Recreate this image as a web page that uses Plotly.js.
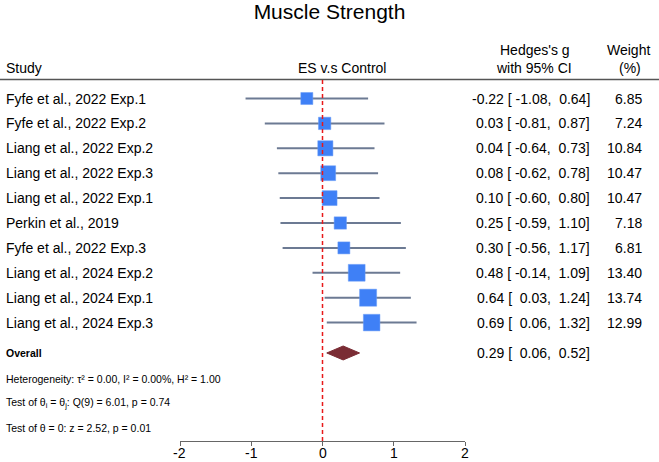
<!DOCTYPE html>
<html>
<head>
<meta charset="utf-8">
<script src="https://cdn.plot.ly/plotly-3.0.1.min.js"></script>
<style>html,body{margin:0;padding:0;background:#fff;}#chart{width:659px;height:462px;}</style>
</head>
<body>
<div id="chart"></div>
<script>
const studies = ["Fyfe et al., 2022 Exp.1","Fyfe et al., 2022 Exp.2","Liang et al., 2022 Exp.2","Liang et al., 2022 Exp.3","Liang et al., 2022 Exp.1","Perkin et al., 2019","Fyfe et al., 2022 Exp.3","Liang et al., 2024 Exp.2","Liang et al., 2024 Exp.1","Liang et al., 2024 Exp.3"];
const est   = [-0.22, 0.03, 0.04, 0.08, 0.10, 0.25, 0.30, 0.48, 0.64, 0.69];
const lower = [-1.08,-0.81,-0.64,-0.62,-0.60,-0.59,-0.56,-0.14, 0.03, 0.06];
const upper = [ 0.64, 0.87, 0.73, 0.78, 0.80, 1.10, 1.17, 1.09, 1.24, 1.32];
const weight = [6.85, 7.24, 10.84, 10.47, 10.47, 7.18, 6.81, 13.40, 13.74, 12.99];
const overall = {est:0.29, lower:0.06, upper:0.52};
const xTicks = [-2,-1,0,1,2];
const hetText = "Heterogeneity: τ² = 0.00, I² = 0.00%, H² = 1.00";
const qText = "Test of θ<sub>i</sub> = θ<sub>j</sub>: Q(9) = 6.01, p = 0.74";
const zText = "Test of θ = 0: z = 2.52, p = 0.01";

const W = 659, H = 462;
const FONT = "Liberation Sans, Arial, Helvetica, sans-serif";
const rowY = studies.map((_, i) => i + 1);
const overallY = 11.22, hetY = 12.27, qY = 13.23, zY = 14.24;
const yTop = 0.257, yBot = 14.755;
const px = v => v / W;
const py = v => 1 - v / H;
const nb = s => s.replace(/ /g, "\u00A0");
const f2 = v => v.toFixed(2);
const ciStr = (e, l, u) => nb(f2(e) + " [ " + (l >= 0 ? " " : "") + f2(l) + ",  " + f2(u) + "]");

// CI lines
const ciX = [], ciY = [];
studies.forEach((_, i) => { ciX.push(lower[i], upper[i], null); ciY.push(rowY[i], rowY[i], null); });

const traces = [
  {type:'scatter', mode:'lines', x:ciX, y:ciY, line:{color:'#6c7a93', width:2}, hoverinfo:'skip', showlegend:false},
  {type:'scatter', mode:'markers', x:est, y:rowY, marker:{symbol:'square', color:'#3f80f6', opacity:1, size:weight.map(w => 4.6*Math.sqrt(w)), line:{width:0.5, color:'#6a9cf7'}}, showlegend:false},
  {type:'scatter', mode:'lines', fill:'toself', fillcolor:'#7a2c34',
   x:[overall.lower, overall.est, overall.upper, overall.est, overall.lower],
   y:[overallY, overallY-0.28, overallY, overallY+0.28, overallY],
   line:{color:'#7a2c34', width:1}, showlegend:false}
];

const ann = [];
const A = (o) => ann.push(Object.assign({showarrow:false, font:{family:FONT, size:14, color:'#000'}}, o));
// headers
A({text:'Study', xref:'paper', yref:'paper', x:px(4), y:py(68), xanchor:'left', yanchor:'middle'});
A({text:'ES v.s Control', xref:'paper', yref:'paper', x:px(342), y:py(68), xanchor:'center', yanchor:'middle'});
A({text:"Hedges's g", xref:'paper', yref:'paper', x:px(535), y:py(50), xanchor:'center', yanchor:'middle'});
A({text:'with 95% CI', xref:'paper', yref:'paper', x:px(534), y:py(68), xanchor:'center', yanchor:'middle'});
A({text:'Weight', xref:'paper', yref:'paper', x:px(628), y:py(50), xanchor:'center', yanchor:'middle'});
A({text:'(%)', xref:'paper', yref:'paper', x:px(630), y:py(68), xanchor:'center', yanchor:'middle'});
// rows
studies.forEach((s, i) => {
  A({text:s, xref:'paper', yref:'y', x:px(4), y:rowY[i], xanchor:'left', yanchor:'middle'});
  A({text:ciStr(est[i], lower[i], upper[i]), xref:'paper', yref:'y', x:px(592), y:rowY[i], xanchor:'right', yanchor:'middle'});
  A({text:f2(weight[i]), xref:'paper', yref:'y', x:px(644), y:rowY[i], xanchor:'right', yanchor:'middle'});
});
A({text:'<b>Overall</b>', xref:'paper', yref:'y', x:px(4), y:overallY, xanchor:'left', yanchor:'middle', font:{family:FONT, size:10.5, color:'#000'}});
A({text:ciStr(overall.est, overall.lower, overall.upper), xref:'paper', yref:'y', x:px(592), y:overallY, xanchor:'right', yanchor:'middle'});
A({text:hetText, xref:'paper', yref:'y', x:px(4), y:hetY, xanchor:'left', yanchor:'middle', font:{family:FONT, size:10.5, color:'#000'}});
A({text:qText, xref:'paper', yref:'y', x:px(4), y:qY, xanchor:'left', yanchor:'middle', font:{family:FONT, size:10.5, color:'#000'}});
A({text:zText, xref:'paper', yref:'y', x:px(4), y:zY, xanchor:'left', yanchor:'middle', font:{family:FONT, size:10.5, color:'#000'}});
// x tick labels (placed via x scale)
xTicks.forEach(t => A({text:String(t), xref:'x', yref:'paper', x:t, y:py(462), xanchor:'center', yanchor:'bottom', borderpad:0, font:{family:FONT, size:14, color:'#000'}}));

const layout = {
  width:W, height:H,
  margin:{l:0, r:0, t:0, b:0},
  paper_bgcolor:'#fff', plot_bgcolor:'#fff',
  font:{family:FONT, color:'#000'},
  title:{text:'Muscle Strength', font:{family:FONT, size:21, color:'#000'}, x:0.5, xanchor:'center', xref:'paper', y:1-12/H, yref:'container', yanchor:'middle'},
  xaxis:{domain:[180/W, 465/W], range:[-2,2], tickvals:xTicks, showticklabels:false, showline:true, linecolor:'#666', linewidth:1, ticks:'outside', ticklen:4, tickcolor:'#666', showgrid:false, zeroline:false, fixedrange:true},
  yaxis:{domain:[(H-441)/H, (H-80)/H], range:[yBot, yTop], visible:false, showgrid:false, zeroline:false, fixedrange:true},
  shapes:[
    {type:'line', xref:'paper', yref:'paper', x0:0, x1:1, y0:py(79.5), y1:py(79.5), line:{color:'#555', width:1.5}},
    {type:'line', xref:'x', yref:'y', x0:0, x1:0, y0:yTop, y1:yBot, line:{color:'#e8191a', width:1.5, dash:'4px,3px'}}
  ],
  annotations:ann,
  showlegend:false
};
Plotly.newPlot('chart', traces, layout, {displayModeBar:false, staticPlot:true});
</script>
</body>
</html>
